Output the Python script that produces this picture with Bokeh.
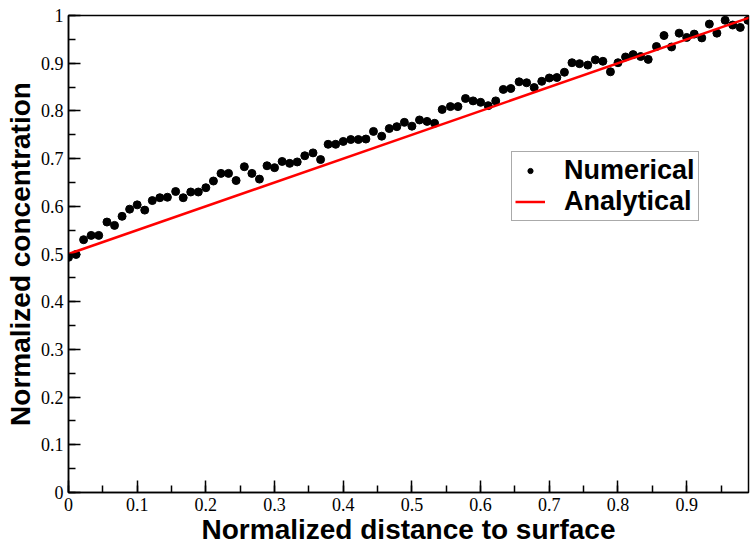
from bokeh.plotting import figure
from bokeh.models import Range1d, SingleIntervalTicker, Legend, LegendItem
from bokeh.embed import file_html
from bokeh.resources import INLINE

# ---- data ----
x_num = [0.000, 0.011, 0.022, 0.033, 0.044, 0.056, 0.067, 0.078, 0.089, 0.100,
         0.111, 0.122, 0.133, 0.144, 0.156, 0.167, 0.178, 0.189, 0.200, 0.211,
         0.222, 0.233, 0.244, 0.256, 0.267, 0.278, 0.289, 0.300, 0.311, 0.322,
         0.333, 0.344, 0.356, 0.367, 0.378, 0.389, 0.400, 0.411, 0.422, 0.433,
         0.444, 0.456, 0.467, 0.478, 0.489, 0.500, 0.511, 0.522, 0.533, 0.544,
         0.556, 0.567, 0.578, 0.589, 0.600, 0.611, 0.622, 0.633, 0.644, 0.656,
         0.667, 0.678, 0.689, 0.700, 0.711, 0.722, 0.733, 0.744, 0.756, 0.767,
         0.778, 0.789, 0.800, 0.811, 0.822, 0.833, 0.844, 0.856, 0.867, 0.878,
         0.889, 0.900, 0.911, 0.922, 0.933, 0.944, 0.956, 0.967, 0.978, 0.989]
y_num = [0.493, 0.499, 0.530, 0.539, 0.539, 0.567, 0.560, 0.579, 0.594, 0.603,
         0.592, 0.612, 0.618, 0.619, 0.631, 0.618, 0.630, 0.630, 0.639, 0.653,
         0.669, 0.669, 0.654, 0.683, 0.669, 0.657, 0.685, 0.681, 0.694, 0.690,
         0.693, 0.706, 0.712, 0.698, 0.730, 0.730, 0.736, 0.740, 0.740, 0.741,
         0.757, 0.747, 0.763, 0.767, 0.776, 0.768, 0.781, 0.778, 0.774, 0.803,
         0.809, 0.809, 0.826, 0.821, 0.818, 0.811, 0.821, 0.845, 0.847, 0.861,
         0.859, 0.849, 0.862, 0.869, 0.870, 0.881, 0.901, 0.899, 0.896, 0.907,
         0.904, 0.882, 0.901, 0.913, 0.918, 0.914, 0.908, 0.935, 0.958, 0.934,
         0.963, 0.954, 0.961, 0.953, 0.982, 0.963, 0.990, 0.980, 0.975, 0.990]
x_ana = [0.0, 1.0]
y_ana = [0.5, 1.0]

x_title = "Normalized distance to surface"
y_title = "Normalized concentration"
series_names = ["Numerical", "Analytical"]

# ---- figure ----
p = figure(width=750, height=547, output_backend="svg", toolbar_location=None,
           x_range=Range1d(0, 0.99), y_range=Range1d(0, 1),
           min_border_left=68, min_border_right=2, min_border_top=15, min_border_bottom=55)
p.background_fill_color = "white"
p.border_fill_color = "white"
p.outline_line_color = "black"
p.outline_line_width = 1.5
p.xgrid.visible = False
p.ygrid.visible = False

r_num = p.scatter(x_num, y_num, size=8, color="black", marker="circle")
r_ana = p.line(x_ana, y_ana, line_color="red", line_width=2.5)

for ax, title in ((p.xaxis[0], x_title), (p.yaxis[0], y_title)):
    ax.ticker = SingleIntervalTicker(interval=0.1, num_minor_ticks=2)
    ax.axis_line_color = "black"
    ax.axis_line_width = 1.5
    ax.major_tick_in = 12
    ax.major_tick_out = 0
    ax.minor_tick_in = 7
    ax.minor_tick_out = 0
    ax.major_tick_line_width = 1.5
    ax.minor_tick_line_width = 1.5
    ax.major_tick_line_color = "black"
    ax.minor_tick_line_color = "black"
    ax.major_label_text_font = "Liberation Serif"
    ax.major_label_text_font_size = "18px"
    ax.major_label_text_color = "black"
    ax.axis_label = title
    ax.axis_label_text_font = "Liberation Sans"
    ax.axis_label_text_font_style = "bold"
    ax.axis_label_text_font_size = "28px"
    ax.axis_label_text_color = "black"
    ax.major_label_overrides = {0: "0", 1: "1"}

p.xaxis[0].major_label_standoff = 5
p.xaxis[0].axis_label_standoff = 0
p.yaxis[0].major_label_standoff = 5
p.yaxis[0].axis_label_standoff = 2

legend = Legend(items=[LegendItem(label=series_names[0], renderers=[r_num]),
                       LegendItem(label=series_names[1], renderers=[r_ana])],
                location=(443, 271))
legend.label_text_font = "Liberation Sans"
legend.label_text_font_style = "bold"
legend.label_text_font_size = "27px"
legend.label_text_color = "black"
legend.border_line_color = "#555555"
legend.border_line_width = 1
legend.background_fill_alpha = 1
legend.padding = 3
legend.spacing = 0
legend.glyph_width = 30
legend.glyph_height = 13
legend.label_height = 25
legend.label_standoff = 19
legend.margin = 0
p.add_layout(legend)

open("out.html", "w").write(file_html(p, INLINE))
